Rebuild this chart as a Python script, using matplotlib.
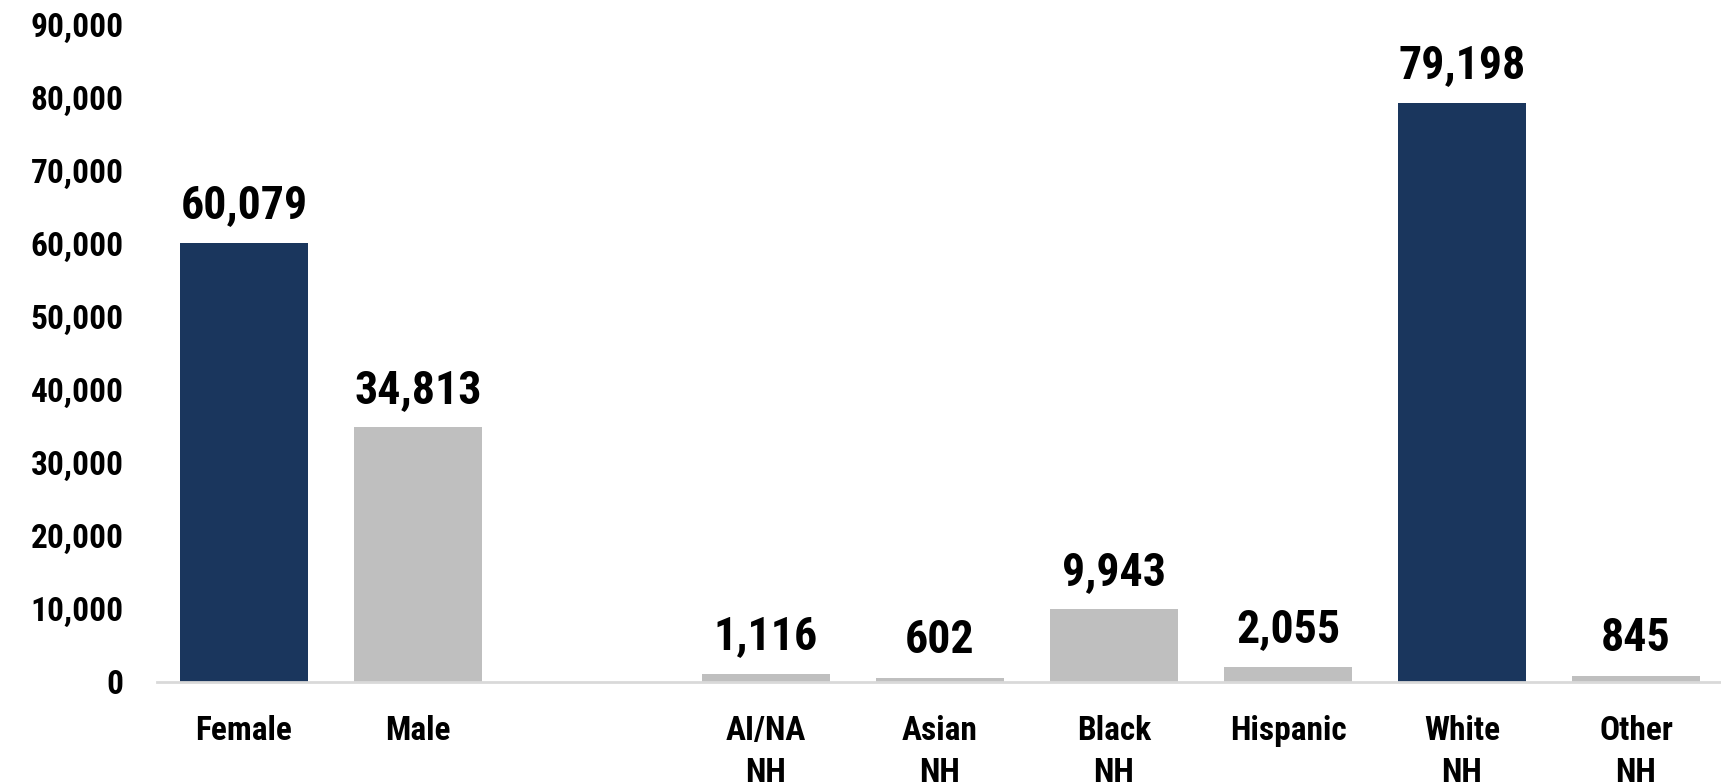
import matplotlib
matplotlib.use('Agg')
import matplotlib.pyplot as plt
import matplotlib.ticker as ticker

# Counts by sex and by race/ethnicity (blank slot separates the two groups)
categories = ['Female', 'Male', '', 'AI/NA\nNH', 'Asian\nNH', 'Black\nNH',
              'Hispanic', 'White\nNH', 'Other\nNH']
counts = [60079, 34813, None, 1116, 602, 9943, 2055, 79198, 845]
highlight = [True, False, False, False, False, False, False, True, False]
y_ticks = [0, 10000, 20000, 30000, 40000, 50000, 60000, 70000, 80000, 90000]

NAVY = '#1A365D'
GRAY = '#BFBFBF'

plt.rcParams['font.family'] = ['Roboto Condensed', 'DejaVu Sans']
plt.rcParams['font.weight'] = 'bold'

fig = plt.figure(figsize=(17.21, 7.84), dpi=100)
ax = fig.add_axes([157 / 1721, 102 / 784, 1566 / 1721, 658 / 784])

positions = [i for i, v in enumerate(counts) if v is not None]
values = [counts[i] for i in positions]
colors = [NAVY if highlight[i] else GRAY for i in positions]

ax.bar(positions, values, width=0.74, color=colors)

# value labels above each bar
for x, v in zip(positions, values):
    ax.annotate(format(v, ','), xy=(x, v), xytext=(0, 27), textcoords='offset points',
                ha='center', va='center', fontsize=33, fontweight='bold')

ax.set_xlim(-0.5, len(categories) - 0.5)
ax.set_ylim(0, 90000)
ax.set_yticks(y_ticks)
ax.yaxis.set_major_formatter(ticker.FuncFormatter(lambda x, p: format(int(x), ',')))
ax.set_xticks(range(len(categories)))
ax.set_xticklabels(categories, linespacing=1.4)

ax.tick_params(axis='y', length=0, pad=24, labelsize=24)
ax.tick_params(axis='x', length=0, pad=24, labelsize=24)
for lbl in ax.get_xticklabels() + ax.get_yticklabels():
    lbl.set_fontweight('bold')

for side in ['left', 'right', 'top']:
    ax.spines[side].set_visible(False)
ax.spines['bottom'].set_color('#D9D9D9')
ax.spines['bottom'].set_linewidth(2)

fig.savefig('out.png', dpi=100)
